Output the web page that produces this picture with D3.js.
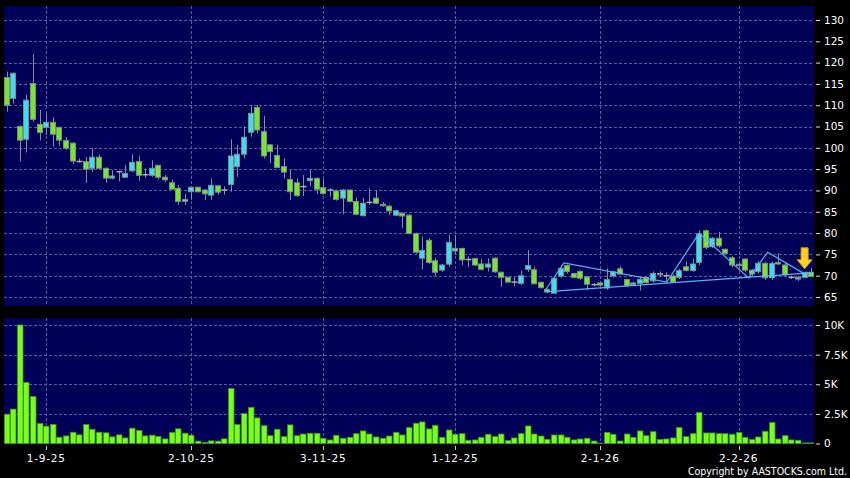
<!DOCTYPE html>
<html>
<head>
<meta charset="utf-8">
<script src="https://cdn.jsdelivr.net/npm/d3@7/dist/d3.min.js"></script>
<style>
  body { margin: 0; background: #000; }
  svg { display: block; }
  text { font-family: "DejaVu Sans", Verdana, sans-serif; fill: #fff; }
</style>
</head>
<body>
<svg id="chart"></svg>
<script>
// daily candles, index 0 = 22-8-25 ... 122 = last session
const openP  = [116.5,111.6,105.0,102.0,115.1,105.5,104.8,106.0,104.8,101.7,101.1,96.8,96.75,95.2,97.8,95.2,92.9,94.4,93.1,94.6,
  96.8,93.7,93.55,95.9,93.1,91.8,90.5,87.4,89.7,90.75,90.1,88.9,91.1,90.1,91.4,95.6,98.5,103.65,109.5,103.8,
  100.7,98.2,95.6,92.6,91.8,90.9,92.3,92.85,90.65,90.1,89.9,88.2,90.1,87.4,84.1,87.2,88.2,86.75,86.3,84.2,
  84.6,84.2,79.9,74.1,78.3,73.5,71.3,72.7,75.8,76.4,73.8,74.0,72.75,72.0,74.1,70.8,69.6,68.5,68.2,71.5,
  71.4,68.45,66.8,65.9,69.9,72.4,70.5,71.0,69.7,67.9,68.3,67.1,69.9,71.6,69.1,67.9,68.2,69.6,68.8,70.5,
  70.0,69.9,69.6,72.1,71.2,73.1,80.55,76.8,78.8,76.2,74.2,72.35,73.9,71.3,70.95,72.9,69.5,73.1,72.5,69.6,
  69.2,69.6,70.8]
const highP  = [117.9,117.7,105.3,112.4,122.0,108.9,108.1,107.2,105.0,102.5,101.3,97.5,97.9,99.9,98.4,95.4,94.8,94.6,96.0,98.5,
  98.1,95.2,97.1,96.0,93.6,92.5,91.3,89.2,90.9,90.9,90.3,92.8,91.3,91.0,102.0,100.7,105.1,110.05,110.05,107.5,
  100.9,100.7,97.5,94.8,92.8,93.6,94.8,93.0,92.6,90.5,90.2,90.3,90.3,88.3,88.2,90.5,90.1,87.3,86.6,85.5,
  84.9,84.4,80.1,79.2,78.8,74.2,72.8,79.6,79.55,76.6,74.5,74.2,73.9,74.1,74.3,71.0,69.8,69.7,71.2,76.0,
  72.0,68.6,67.0,69.6,72.5,72.6,70.7,71.3,70.0,68.3,68.6,71.7,71.2,72.2,69.3,68.6,69.6,69.8,71.0,71.0,
  70.8,70.3,71.6,73.4,74.0,80.7,80.8,79.0,80.3,76.4,74.6,72.9,74.1,71.6,73.4,73.3,73.3,75.25,73.0,70.0,
  69.9,70.9,71.8]
const lowP   = [108.5,110.4,96.8,98.9,106.1,101.8,103.0,100.3,100.4,99.5,96.2,96.5,91.8,94.4,95.0,91.8,92.6,92.1,93.0,94.4,
  92.3,92.9,93.2,92.5,92.0,90.2,86.6,86.6,87.8,89.5,87.8,87.8,89.0,89.0,89.7,93.2,97.5,102.6,103.4,97.5,
  96.4,95.2,92.85,87.8,88.5,88.7,91.0,89.2,89.0,88.5,87.6,84.4,87.2,84.2,83.9,86.6,86.8,86.2,84.2,84.0,
  81.1,79.7,75.2,71.5,72.8,69.9,70.9,72.1,75.0,72.5,72.0,72.3,71.2,71.0,70.7,67.4,68.3,67.5,67.8,70.9,
  68.0,67.0,65.9,65.7,69.5,70.5,69.4,69.0,66.6,67.5,67.6,66.7,69.6,70.2,67.3,67.5,66.5,68.0,68.4,69.8,
  68.7,68.3,69.2,71.0,70.9,72.5,76.2,76.5,76.6,75.0,72.0,72.0,70.8,69.9,70.5,69.0,69.0,72.5,69.8,69.2,
  68.8,69.4,69.7]
const closeP = [110.0,117.5,101.8,111.2,106.7,103.6,106.0,103.2,101.8,99.9,96.9,96.8,95.0,97.8,95.2,92.9,93.4,94.4,94.0,96.6,
  93.55,93.7,95.2,93.1,92.5,90.3,87.4,87.9,90.75,89.7,89.2,91.2,89.6,90.1,98.1,98.5,102.5,108.1,104.2,98.1,
  99.1,95.4,94.3,89.7,88.8,90.9,92.85,90.3,89.3,90.1,87.9,90.1,87.4,84.4,87.0,87.2,87.0,86.4,85.2,85.25,
  84.0,79.9,75.5,75.95,73.1,70.8,72.5,77.8,76.4,73.7,73.8,72.5,71.5,72.75,70.9,69.6,68.5,68.5,70.0,72.4,
  68.1,67.2,66.2,69.4,71.7,71.0,69.6,69.4,68.0,67.9,67.8,69.1,70.9,70.4,67.65,68.3,69.15,68.4,70.55,70.2,
  70.0,68.5,71.2,71.2,72.75,79.8,76.65,78.8,77.0,75.25,72.5,72.7,71.3,70.4,72.9,69.5,72.9,72.75,70.2,69.6,
  69.6,70.8,69.8]
// volume in thousands of shares
const volK = [2.47,2.9,10.0,5.15,3.97,1.69,1.46,1.6,0.53,0.64,0.95,0.73,1.6,1.2,0.95,0.9,0.56,0.73,0.47,1.29,
  1.1,0.64,0.7,0.59,0.39,0.93,1.24,0.87,0.7,0.2,0.1,0.22,0.2,0.39,4.64,1.6,2.52,3.05,2.16,1.5,
  0.66,1.2,0.58,1.57,0.66,0.8,0.86,0.86,0.44,0.3,0.69,0.44,0.52,0.83,1.06,0.8,0.55,0.44,0.63,0.94,
  0.72,1.34,1.71,1.82,1.23,1.54,0.52,1.14,0.78,0.83,0.27,0.3,0.52,0.78,0.58,0.8,0.24,0.47,0.83,1.48,
  0.8,0.63,0.35,0.72,0.72,0.52,0.3,0.38,0.44,0.21,0.03,0.94,0.78,0.21,0.8,0.52,1.06,0.66,1.0,0.35,
  0.38,0.47,1.34,0.58,0.83,2.61,0.89,0.89,0.83,0.83,0.78,0.92,0.52,0.33,0.55,1.03,1.76,0.38,0.66,0.3,
  0.27,0.05,0.05]

const dateTickIdx = [6, 28, 48, 68, 90, 111]
const dateTickLabels = ["1-9-25", "2-10-25", "3-11-25", "1-12-25", "2-1-26", "2-2-26"]
const priceTicks = [65, 70, 75, 80, 85, 90, 95, 100, 105, 110, 115, 120, 125, 130]
const volTicks = [0, 2.5, 5, 7.5, 10]

// pattern overlay: [candle index, price]
const patternUpper = [[81.6, 66.4], [84.5, 73.0], [100.1, 68.5], [105.0, 80.0], [112.5, 69.5], [115.4, 75.5], [120.8, 70.6]]
const patternLower = [[81.6, 66.2], [122.3, 70.7]]
const arrowIdx = 121

const width = 850, height = 478
const left = 4, right = 814
const priceTop = 6, priceBottom = 306
const volTop = 318, volBottom = 444

const navy = "#000058"
const gridColor = "#5a5a9c"
const upColor = "#3cdcf2"
const downColor = "#76e82c"

const candles = openP.map((o, i) => ({i, o, h: highP[i], l: lowP[i], c: closeP[i], v: volK[i]}))

const svg = d3.select("#chart").attr("width", width).attr("height", height)
svg.append("rect").attr("width", width).attr("height", height).attr("fill", "#000")

const x = d3.scaleLinear().domain([0, candles.length - 1]).range([6.7, 811.2])
const y = d3.scaleLinear().domain([65, 130]).range([297, 20])
const yv = d3.scaleLinear().domain([0, 10]).range([443.5, 325])

const defs = svg.append("defs")
defs.append("clipPath").attr("id", "clipPrice")
  .append("rect").attr("x", left).attr("y", priceTop).attr("width", right - left).attr("height", priceBottom - priceTop)
defs.append("clipPath").attr("id", "clipVol")
  .append("rect").attr("x", left).attr("y", volTop).attr("width", right - left).attr("height", volBottom - volTop)

// panels
svg.append("rect").attr("x", left).attr("y", priceTop).attr("width", right - left).attr("height", priceBottom - priceTop).attr("fill", navy)
svg.append("rect").attr("x", left).attr("y", volTop).attr("width", right - left).attr("height", volBottom - volTop).attr("fill", navy)

const pricePanel = svg.append("g").attr("clip-path", "url(#clipPrice)")
const volPanel = svg.append("g").attr("clip-path", "url(#clipVol)")

function grid(g, yScale, values, top, bottom) {
  g.append("g").selectAll("line").data(values).enter().append("line")
    .attr("x1", left).attr("x2", right)
    .attr("y1", d => Math.round(yScale(d)) + 0.5).attr("y2", d => Math.round(yScale(d)) + 0.5)
    .attr("stroke", gridColor).attr("stroke-dasharray", "3,2")
  g.append("g").selectAll("line").data(dateTickIdx).enter().append("line")
    .attr("x1", d => Math.round(x(d)) + 0.5).attr("x2", d => Math.round(x(d)) + 0.5)
    .attr("y1", top).attr("y2", bottom)
    .attr("stroke", gridColor).attr("stroke-dasharray", "3,2")
}
grid(pricePanel, y, priceTicks, priceTop, priceBottom)
grid(volPanel, yv, volTicks.filter(d => d > 0), volTop, volBottom)

// candles
const bodyW = 5
const candle = pricePanel.append("g").selectAll("g").data(candles).enter().append("g")
candle.append("line")
  .attr("x1", d => Math.round(x(d.i)) + 0.5).attr("x2", d => Math.round(x(d.i)) + 0.5)
  .attr("y1", d => y(d.h)).attr("y2", d => y(d.l))
  .attr("stroke", "#8c8c9c")
candle.filter(d => d.o !== d.c).append("rect")
  .attr("x", d => Math.round(x(d.i)) - 2.5).attr("width", bodyW)
  .attr("y", d => y(Math.max(d.o, d.c)))
  .attr("height", d => Math.max(1, Math.abs(y(d.o) - y(d.c))))
  .attr("fill", d => d.c > d.o ? upColor : downColor)
  .attr("stroke", "#7b8f86").attr("stroke-width", 1)
candle.filter(d => d.o === d.c).append("line")
  .attr("x1", d => Math.round(x(d.i)) - 2.5).attr("x2", d => Math.round(x(d.i)) + 3.5)
  .attr("y1", d => y(d.c)).attr("y2", d => y(d.c))
  .attr("stroke", "#b0b0b0").attr("stroke-width", 1.5)

// pattern lines
const line = d3.line().x(d => x(d[0])).y(d => y(d[1]))
pricePanel.append("path").datum(patternUpper).attr("d", line)
  .attr("fill", "none").attr("stroke", "#5cb2ea").attr("stroke-width", 1.2)
pricePanel.append("path").datum(patternLower).attr("d", line)
  .attr("fill", "none").attr("stroke", "#5cb2ea").attr("stroke-width", 1.2)

// signal arrow above the chosen candle
const ax = x(arrowIdx), tip = y(highP[arrowIdx]) - 3
pricePanel.append("path")
  .attr("d", `M${ax - 3.5},${tip - 21} L${ax + 3.5},${tip - 21} L${ax + 3.5},${tip - 9} L${ax + 7.5},${tip - 9} L${ax},${tip} L${ax - 7.5},${tip - 9} L${ax - 3.5},${tip - 9} Z`)
  .attr("fill", "#ffd21e").attr("stroke", "#e39a10").attr("stroke-width", 1)

// volume bars
volPanel.append("g").selectAll("rect").data(candles).enter().append("rect")
  .attr("x", d => Math.round(x(d.i)) - 2.5).attr("width", 5.5)
  .attr("y", d => yv(d.v)).attr("height", d => yv(0) - yv(d.v))
  .attr("fill", "#7cfc1e").attr("stroke", "#3a9c12").attr("stroke-width", 0.8)

// right axes
const priceAxis = svg.append("g").attr("transform", `translate(${right + 2},0)`)
  .call(d3.axisRight(y).tickValues(priceTicks).tickSize(4).tickPadding(4))
const volAxis = svg.append("g").attr("transform", `translate(${right + 2},0)`)
  .call(d3.axisRight(yv).tickValues(volTicks).tickSize(4).tickPadding(4)
    .tickFormat(d => d === 0 ? "0" : d + "K"))
;[priceAxis, volAxis].forEach(g => {
  g.select(".domain").remove()
  g.selectAll("line").attr("stroke", "#ddd")
  g.selectAll("text").attr("fill", "#fff").style("font-size", "10.5px").style("font-family", "DejaVu Sans, sans-serif")
})

// date axis
const dates = svg.append("g")
dates.selectAll("line").data(dateTickIdx).enter().append("line")
  .attr("x1", d => Math.round(x(d)) + 0.5).attr("x2", d => Math.round(x(d)) + 0.5)
  .attr("y1", 446).attr("y2", 450).attr("stroke", "#ccc")
dates.selectAll("text").data(dateTickIdx).enter().append("text")
  .attr("x", d => x(d)).attr("y", 462)
  .attr("text-anchor", "middle").style("font-size", "10.5px").style("letter-spacing", "0.8px")
  .text((d, i) => dateTickLabels[i])

svg.append("text").attr("x", 847).attr("y", 475).attr("text-anchor", "end")
  .style("font-size", "10.5px").style("font-family", "'DejaVu Sans Condensed', 'DejaVu Sans', sans-serif")
  .text("Copyright by AASTOCKS.com Ltd.")
</script>
</body>
</html>
